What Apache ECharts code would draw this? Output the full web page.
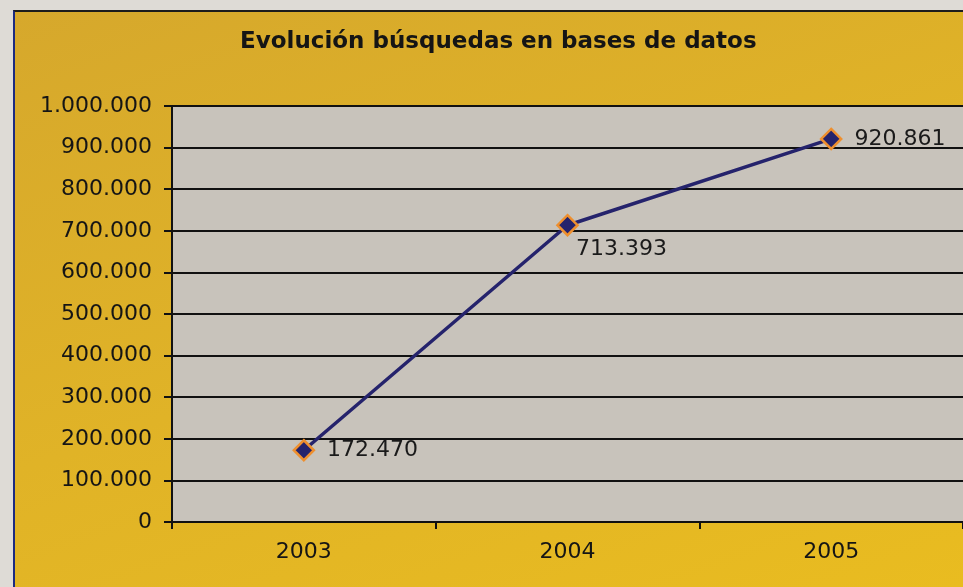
<!DOCTYPE html>
<html>
<head>
<meta charset="utf-8">
<script src="https://cdn.jsdelivr.net/npm/echarts@6/dist/echarts.min.js"></script>
<style>
html, body { margin: 0; padding: 0; width: 963px; height: 587px; background: #dedbd6; overflow: hidden; }
#main { position: absolute; left: 13px; top: 10px; right: 0; bottom: 0;
    border-top: 2px solid #1c1c1c; border-left: 2px solid #1c2a80;
    background: linear-gradient(160deg, #d6a82c 0%, #e0b327 50%, #e9bc20 100%); }
</style>
</head>
<body>
<div id="main"></div>
<script>
// evolución de búsquedas 2003-2005
var years = [ '2003', '2004', '2005' ];
var busquedas = [ 172470, 713393, 920861 ];
var labelPos = [ 'right', 'bottomRight', 'right' ];

function miles(v) {
    return String(Math.round(v)).replace(/\B(?=(\d{3})+(?!\d))/g, '.');
}

var myChart = echarts.init(document.getElementById('main'));
var option = {
    animation : false,
    textStyle : { fontFamily : 'DejaVu Sans' },
    title : {
	text : 'Evolución búsquedas en bases de datos',
	left : 220,
	top : 14,
	textStyle : { fontSize : 23, fontWeight : 'bold', color : '#151515' }
    },
    grid : {
	left : 157,
	top : 94,
	right : 0,
	bottom : 65,
	show : true,
	backgroundColor : '#c8c3bb',
	borderWidth : 0
    },
    xAxis : {
	type : 'category',
	data : years,
	boundaryGap : true,
	axisLine : { lineStyle : { color : '#111', width : 2 } },
	axisTick : { show : true, length : 7, lineStyle : { color : '#111', width : 2 } },
	axisLabel : { color : '#151515', fontSize : 22, margin : 19 }
    },
    yAxis : {
	type : 'value',
	min : 0,
	max : 1000000,
	interval : 100000,
	axisLine : { show : true, lineStyle : { color : '#111', width : 2 } },
	axisTick : { show : true, length : 8, lineStyle : { color : '#111', width : 2 } },
	axisLabel : { color : '#151515', fontSize : 22, margin : 20, formatter : miles },
	splitLine : { lineStyle : { color : '#111', width : 2 } }
    },
    series : [ {
	type : 'line',
	data : busquedas.map(function(v, i) {
	    var pos = labelPos[i];
	    var lbl = pos === 'bottomRight'
		? { position : 'bottom', offset : [ 54, -3 ] }
		: { position : 'right', distance : 12 };
	    return { value : v, label : lbl };
	}),
	symbol : 'diamond',
	symbolSize : 20,
	lineStyle : { color : '#25236c', width : 3.5 },
	itemStyle : { color : '#25236c', borderColor : '#ee8f2e', borderWidth : 2.5 },
	label : {
	    show : true,
	    color : '#1a1a1a',
	    fontSize : 22,
	    formatter : function(p) { return miles(p.value); }
	},
	z : 5
    } ]
};
myChart.setOption(option);
</script>
</body>
</html>
